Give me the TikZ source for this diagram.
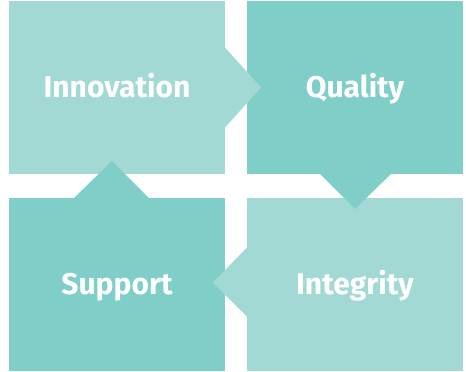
\documentclass[tikz,border=0pt]{standalone}
\usepackage{fontspec}
\setmainfont{Fira Sans}
\definecolor{lightteal}{HTML}{A2D9D5}
\definecolor{darkteal}{HTML}{80CEC8}
\begin{document}
\begin{tikzpicture}[x=1pt,y=-1pt,
  card/.style={rectangle,inner sep=0pt,outer sep=0pt,minimum width=216pt,minimum height=173pt,
    text=white,font=\fontsize{30}{32}\selectfont\bfseries,text height=21pt,text depth=2pt},
  light/.style={card,fill=lightteal},
  dark/.style={card,fill=darkteal}]
\useasboundingbox (0,0) rectangle (466,372);
\node[light] (inn) at (117,87.5) {Innovation};
\node[dark]  (qua) at (355,87.5) {Quality};
\node[dark]  (sup) at (117,284.5) {Support};
\node[light] (int) at (355,284.5) {Integrity};
% arrows (notches)
\fill[lightteal] (inn.east) ++(0,-40) -- ++(36,40) -- ++(-36,40) -- cycle;
\fill[darkteal] (qua.south) ++(-35,0) -- ++(35,35) -- ++(36,-35) -- cycle;
\fill[lightteal] (int.west) ++(0,-37) -- ++(-34,35) -- ++(34,34) -- cycle;
\fill[darkteal] (sup.north) ++(-43,0) -- ++(38,-37) -- ++(37,37) -- cycle;
\end{tikzpicture}
\end{document}
